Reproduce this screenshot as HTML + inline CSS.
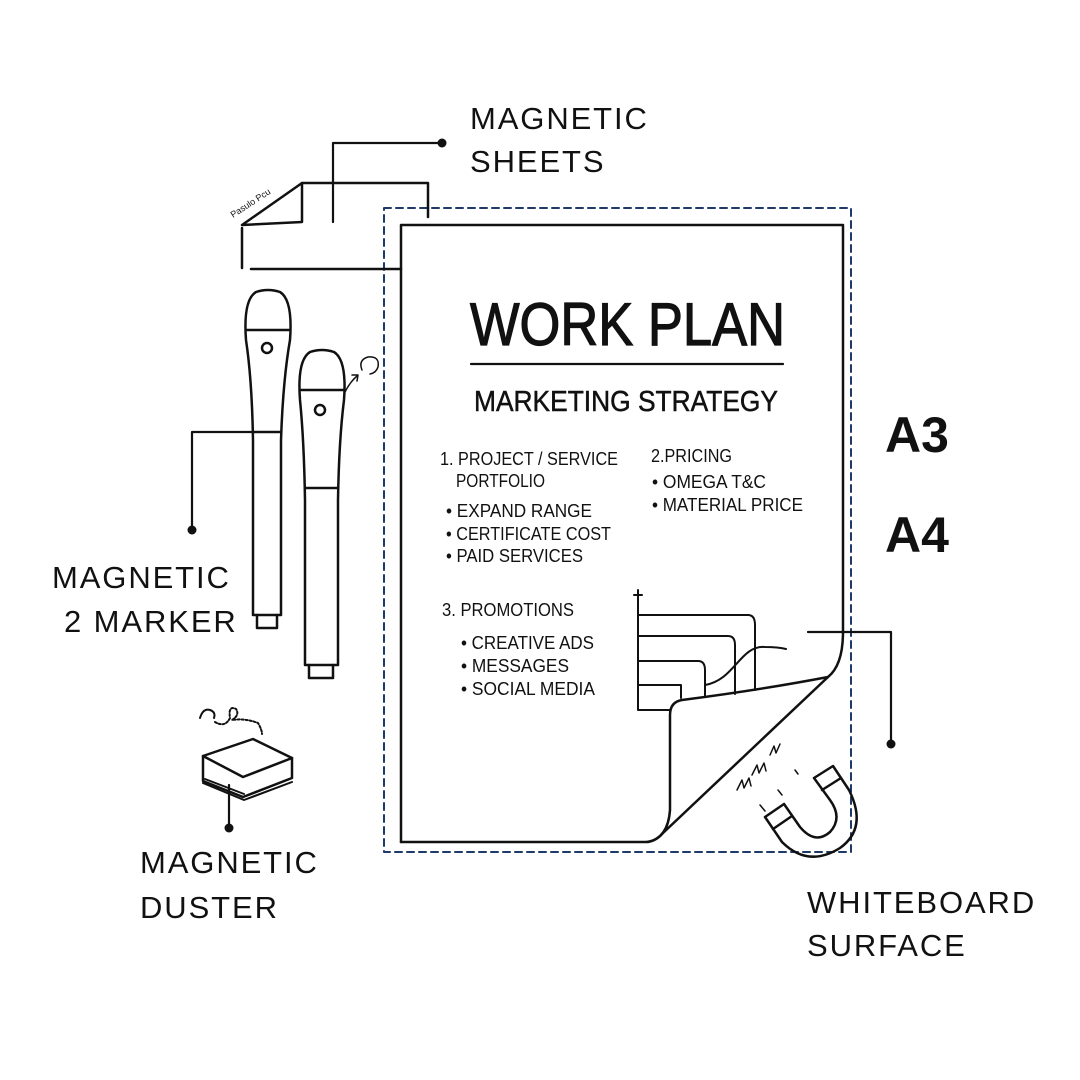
<!DOCTYPE html>
<html><head><meta charset="utf-8"><style>
body{margin:0;background:#fff}
svg{display:block}
.l{font-family:"Liberation Sans",sans-serif;font-size:31px;fill:#111;letter-spacing:1.9px}
.h{font-family:"Liberation Sans Narrow","Liberation Sans",sans-serif;fill:#111}
</style></head><body>
<svg width="1080" height="1080" viewBox="0 0 1080 1080" xmlns="http://www.w3.org/2000/svg">
<g fill="none" stroke="#111" stroke-width="2.5" stroke-linejoin="round" stroke-linecap="round">
<rect x="384" y="208" width="467" height="644" stroke="#1d3a6b" stroke-width="2" stroke-dasharray="7,5"/>
<path d="M401 842 V225 H843 V632 Q843 665 828 677"/>
<path d="M401 842 H645 Q655 842 663 833 L828 677 Q760 690 682 700 Q670 702 670 715 V810 Q668 838 648 842"/>
<g stroke-width="2">
<path d="M638 590 V710 H670"/><path d="M634 595 H642"/>
<path d="M638 615 H748 Q755 615 755 625 V690"/>
<path d="M638 636 H728 Q735 636 735 645 V694"/>
<path d="M638 661 H698 Q705 661 705 670 V697"/>
<path d="M638 685 H681 V698"/>
<path d="M705 685 C735 680 740 645 765 647 Q778 647 786 649"/>
</g>
<g stroke-width="2.5">
<path d="M765 817 L784 804 L800 827 Q815 845 830 832 Q843 818 830 800 L814 778 L833 766 L849 790 Q868 828 840 848 Q808 868 782 842 Z"/>
<path d="M773 829 L792 816"/><path d="M822 790 L841 778"/>
</g>
<g stroke-width="1.5">
<path d="M737 790 l5 -10 l2 8 l5 -10 l2 8"/><path d="M752 775 l5 -10 l2 8 l5 -10 l2 8"/>
<path d="M770 755 l4 -9 l2 7 l4 -9"/><path d="M760 805 l5 6"/><path d="M778 790 l4 5"/><path d="M795 770 l3 4"/>
</g>
<path d="M302 183 H428 V217"/>
<path d="M302 183 L242 225 L302 222 Z"/>
<path d="M242 228 V268"/>
<path d="M251 269 H401"/>
<path d="M253 615 V440 Q252 380 246 340 Q243 300 256 292 Q268 288 280 292 Q293 300 290 340 Q283 380 281 440 V615 Z"/>
<path d="M247 330 H289"/><path d="M254 432 H281"/>
<circle cx="267" cy="348" r="5"/>
<path d="M257 615 V628 H277 V615"/>
<path d="M305 665 V500 Q304 440 300 400 Q297 360 310 352 Q322 348 334 352 Q347 360 344 400 Q339 440 338 500 V665 Z"/>
<path d="M301 390 H344"/><path d="M305 488 H338"/>
<circle cx="320" cy="410" r="5"/>
<path d="M309 665 V678 H333 V665"/>
<path d="M345 392 Q350 382 357 376" stroke-width="1.5"/><path d="M352 375 L358 375 L357 381" stroke-width="1.5"/>
<path d="M362 370 Q358 360 368 357 Q380 356 378 367 Q376 373 370 374" stroke-width="1.5"/>
<path d="M203 756 L253 739 L292 758 L243 777 Z"/>
<path d="M203 756 V781 L243 797 L292 778 V758"/>
<path d="M205 779 L244 794 M203 783 L244 800 L292 782" stroke-width="2"/>
<path d="M200 718 Q203 708 210 710 Q216 712 214 718" stroke-width="2"/>
<path d="M215 722 Q225 728 230 718 Q228 705 236 709 Q240 715 232 720 Q245 718 258 723 Q262 730 262 734" stroke-width="2" stroke-dasharray="2,2"/>
<g stroke-width="2.2">
<path d="M333 222 V143 H440"/>
<path d="M192 530 V432 H254"/>
<path d="M229 785 V828"/>
<path d="M808 632 H891 V743"/>
<path d="M471 364 H783"/>
</g>
</g>
<g fill="#111">
<circle cx="442" cy="143" r="4.5"/><circle cx="192" cy="530" r="4.5"/><circle cx="229" cy="828" r="4.5"/><circle cx="891" cy="744" r="4.5"/>
</g>
<text x="233" y="218" font-family="Liberation Sans" font-size="9" transform="rotate(-33 233 218)" fill="#111">Pasulo Pcu</text>
<text class="l" x="470" y="129">MAGNETIC</text>
<text class="l" x="470" y="172">SHEETS</text>
<text class="l" x="52" y="588">MAGNETIC</text>
<text class="l" x="64" y="632">2 MARKER</text>
<text class="l" x="140" y="873">MAGNETIC</text>
<text class="l" x="140" y="918">DUSTER</text>
<text class="l" x="807" y="913">WHITEBOARD</text>
<text class="l" x="807" y="956">SURFACE</text>
<text x="885" y="452" font-family="Liberation Sans" font-weight="bold" font-size="50" fill="#111">A3</text>
<text x="885" y="552" font-family="Liberation Sans" font-weight="bold" font-size="50" fill="#111">A4</text>
<text class="h" x="470" y="345" font-size="60" stroke="#111" stroke-width="1.2" textLength="315" lengthAdjust="spacingAndGlyphs">WORK PLAN</text>
<text class="h" x="474" y="411" font-size="29" stroke="#111" stroke-width="0.5" textLength="304" lengthAdjust="spacingAndGlyphs">MARKETING STRATEGY</text>
<g class="h" font-size="18" lengthAdjust="spacingAndGlyphs">
<text x="440" y="465" textLength="178" lengthAdjust="spacingAndGlyphs">1. PROJECT / SERVICE</text>
<text x="456" y="487" textLength="89" lengthAdjust="spacingAndGlyphs">PORTFOLIO</text>
<text x="446" y="517" textLength="146" lengthAdjust="spacingAndGlyphs">•  EXPAND RANGE</text>
<text x="446" y="540" textLength="165" lengthAdjust="spacingAndGlyphs">•  CERTIFICATE COST</text>
<text x="446" y="562" textLength="137" lengthAdjust="spacingAndGlyphs">•  PAID SERVICES</text>
<text x="651" y="462" textLength="81" lengthAdjust="spacingAndGlyphs">2.PRICING</text>
<text x="652" y="488" textLength="114" lengthAdjust="spacingAndGlyphs">•  OMEGA T&amp;C</text>
<text x="652" y="511" textLength="151" lengthAdjust="spacingAndGlyphs">•  MATERIAL PRICE</text>
<text x="442" y="616" textLength="132" lengthAdjust="spacingAndGlyphs">3. PROMOTIONS</text>
<text x="461" y="649" textLength="133" lengthAdjust="spacingAndGlyphs">•  CREATIVE ADS</text>
<text x="461" y="672" textLength="108" lengthAdjust="spacingAndGlyphs">•  MESSAGES</text>
<text x="461" y="695" textLength="134" lengthAdjust="spacingAndGlyphs">•  SOCIAL MEDIA</text>
</g>
</svg>
</body></html>
